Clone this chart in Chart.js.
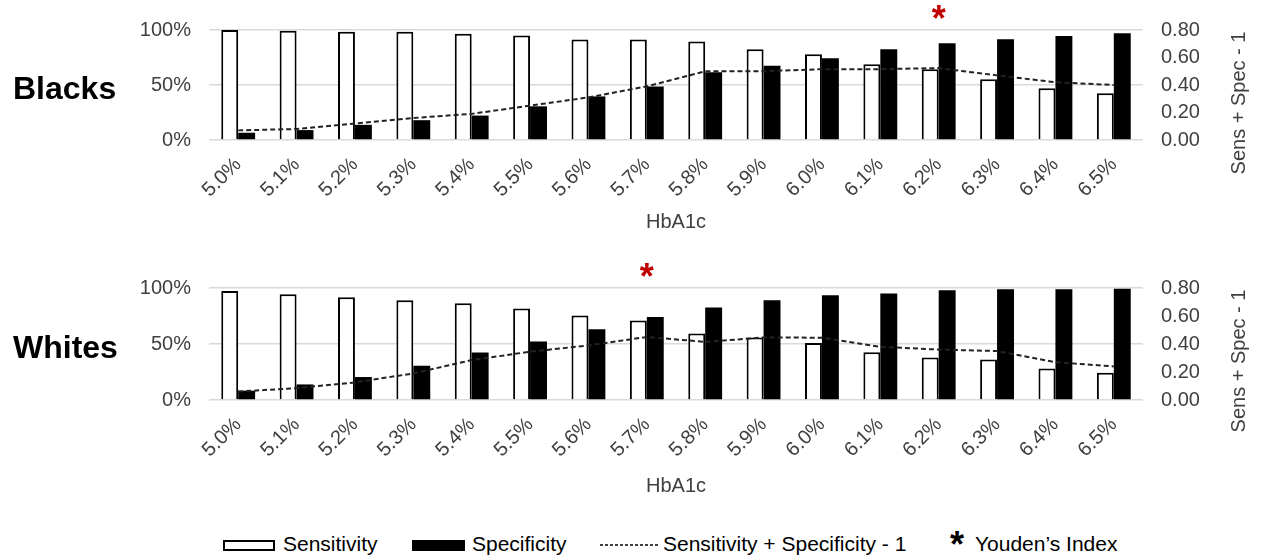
<!DOCTYPE html>
<html lang="en">
<head>
    <meta charset="UTF-8">
    <title>Sensitivity / Specificity by HbA1c cut-off</title>
    <script src="https://cdn.jsdelivr.net/npm/chart.js"></script>
    <style>
        body {
            margin: 0;
            padding: 0;
            background: #fff;
            font-family: "Liberation Sans", Arial, sans-serif;
            color: #000;
        }

        .page {
            position: relative;
            width: 1264px;
            height: 558px;
            overflow: hidden;
        }

        .chart-box {
            position: absolute;
            left: 0;
            width: 1264px;
        }

        .group-label {
            position: absolute;
            left: 13px;
            font-size: 32px;
            line-height: 38px;
            font-weight: bold;
        }

        .legend span {
            position: absolute;
            font-size: 21px;
            line-height: 24px;
            white-space: nowrap;
        }

        .legend .box {
            position: absolute;
            box-sizing: border-box;
            height: 11px;
            border: 2px solid #000;
        }
    </style>
</head>
<body>
    <div class="page">
        <div class="chart-box" style="top: 0; height: 240px;">
            <canvas id="blacksChart" width="1264" height="240"></canvas>
        </div>
        <div class="chart-box" style="top: 248px; height: 262px;">
            <canvas id="whitesChart" width="1264" height="262"></canvas>
        </div>

        <div class="group-label" style="top: 69px;">Blacks</div>
        <div class="group-label" style="top: 328px;">Whites</div>

        <div class="legend">
            <div class="box" style="left: 223px; top: 540px; width: 52px; background: #fff;"></div>
            <span style="left: 283px; top: 532px;">Sensitivity</span>
            <div class="box" style="left: 412px; top: 540px; width: 53px; background: #000;"></div>
            <span style="left: 472px; top: 532px;">Specificity</span>
            <svg style="position: absolute; left: 600px; top: 540px;" width="60" height="10">
                <line x1="0" y1="5" x2="58" y2="5" stroke="#000" stroke-width="1.5" stroke-dasharray="3,2"></line>
            </svg>
            <span style="left: 663px; top: 532px;">Sensitivity + Specificity - 1</span>
            <span style="left: 950px; top: 527px; font-size: 36px; line-height: 36px; font-weight: bold;">*</span>
            <span style="left: 975px; top: 532px;">Youden’s Index</span>
        </div>
    </div>

    <script>
// HbA1c cut-offs
const cutoffs = ["5.0%", "5.1%", "5.2%", "5.3%", "5.4%", "5.5%", "5.6%", "5.7%",
                 "5.8%", "5.9%", "6.0%", "6.1%", "6.2%", "6.3%", "6.4%", "6.5%"];

// Blacks (%)
const blacksSensitivity = [100, 99.4, 98.5, 98.5, 96.7, 94.9, 91.3, 91.3, 89.5, 82.5, 77.9, 68.9, 64.4, 55.3, 47.1, 42.6];
const blacksSpecificity = [6.6, 9, 13.8, 18, 22.2, 30.6, 39.6, 48.6, 61.6, 67.4, 74.3, 82.5, 87.9, 91.5, 94.6, 97];
const blacksYouden = [0.07, 0.08, 0.12, 0.16, 0.19, 0.25, 0.31, 0.39, 0.50, 0.50, 0.515, 0.515, 0.523, 0.47, 0.42, 0.40];
const blacksBest = "6.2%";

// Whites (%)
const whitesSensitivity = [97.3, 94.4, 91.7, 89.0, 86.4, 81.6, 75.4, 70.9, 59.3, 55.8, 51.0, 42.7, 38.0, 36.2, 28.2, 24.3];
const whitesSpecificity = [8.3, 13.9, 20.5, 30.6, 42.4, 52.2, 63.2, 74.2, 82.5, 89.0, 93.5, 95.0, 97.9, 98.8, 98.8, 99.4];
const whitesYouden = [0.06, 0.085, 0.125, 0.19, 0.285, 0.345, 0.39, 0.45, 0.415, 0.447, 0.445, 0.38, 0.36, 0.35, 0.27, 0.24];
const whitesBest = "5.7%";

// axis ticks
const percentTicks = [0, 50, 100];
const indexTicks = [0, 0.2, 0.4, 0.6, 0.8];

const FONT = '"Liberation Sans", Arial, sans-serif';
const TEXT = "#404040";

Chart.defaults.font.family = FONT;
Chart.defaults.font.size = 20;
Chart.defaults.color = TEXT;

// red asterisk over the best cut-off + right axis title (reads bottom to top)
const extrasPlugin = {
    id: "extras",
    afterDraw(chart, args, opts) {
        const ctx = chart.ctx;
        const area = chart.chartArea;
        const x = chart.scales.x.getPixelForValue(chart.data.labels.indexOf(opts.best));

        ctx.save();
        ctx.fillStyle = "#c00000";
        ctx.font = "bold 36px " + FONT;
        ctx.textAlign = "center";
        ctx.textBaseline = "alphabetic";
        ctx.fillText("*", x, area.top + 1);
        ctx.restore();

        ctx.save();
        ctx.translate(chart.scales.y1.right - 25, area.top + 73);
        ctx.rotate(-Math.PI / 2);
        ctx.fillStyle = TEXT;
        ctx.font = "20px " + FONT;
        ctx.textAlign = "center";
        ctx.textBaseline = "middle";
        ctx.fillText("Sens + Spec - 1", 0, 0);
        ctx.restore();
    }
};

function makeChart(canvasId, sens, spec, youden, best, padTop, padBottom, xHeight) {
    const ctx = document.getElementById(canvasId).getContext("2d");
    return new Chart(ctx, {
        type: "bar",
        data: {
            labels: cutoffs,
            datasets: [
                {
                    type: "line",
                    label: "Sensitivity + Specificity - 1",
                    data: youden,
                    yAxisID: "y1",
                    borderColor: "#222",
                    borderWidth: 2,
                    borderDash: [5, 3],
                    pointRadius: 0,
                    tension: 0,
                    order: 0,
                },
                {
                    label: "Sensitivity",
                    data: sens,
                    yAxisID: "y",
                    backgroundColor: "#fff",
                    borderColor: "#000",
                    borderWidth: 2,
                    categoryPercentage: 0.58,
                    barPercentage: 1.0,
                    order: 1,
                },
                {
                    label: "Specificity",
                    data: spec,
                    yAxisID: "y",
                    backgroundColor: "#000",
                    borderWidth: 0,
                    categoryPercentage: 0.58,
                    barPercentage: 1.0,
                    order: 1,
                },
            ],
        },
        options: {
            responsive: false,
            animation: false,
            layout: {
                padding: { top: padTop, bottom: padBottom, left: 0, right: 0 },
            },
            plugins: {
                legend: { display: false },
                tooltip: { enabled: false },
                extras: { best: best },
            },
            scales: {
                x: {
                    grid: { display: false, drawTicks: false },
                    border: { display: false },
                    ticks: { minRotation: 45, maxRotation: 45, padding: 13, color: TEXT },
                    title: { display: true, text: "HbA1c", color: TEXT, font: { size: 20 } },
                    afterFit: (scale) => { scale.height = xHeight; },
                },
                y: {
                    position: "left",
                    min: 0,
                    max: 100,
                    afterBuildTicks: (scale) => { scale.ticks = percentTicks.map(v => ({ value: v })); },
                    ticks: { padding: 18, color: TEXT, callback: (v) => v + "%" },
                    grid: { color: "#d9d9d9", lineWidth: 1.5, drawTicks: false },
                    border: { display: false },
                    afterFit: (scale) => { scale.width = 209; },
                },
                y1: {
                    position: "right",
                    min: 0,
                    max: 0.8,
                    afterBuildTicks: (scale) => { scale.ticks = indexTicks.map(v => ({ value: v })); },
                    ticks: { padding: 18, color: TEXT, callback: (v) => Number(v).toFixed(2) },
                    grid: { display: false, drawTicks: false },
                    border: { display: false },
                    afterFit: (scale) => { scale.width = 121; },
                },
            },
        },
        plugins: [extrasPlugin],
    });
}

makeChart("blacksChart", blacksSensitivity, blacksSpecificity, blacksYouden, blacksBest, 29, 2, 98);
makeChart("whitesChart", whitesSensitivity, whitesSpecificity, whitesYouden, whitesBest, 40, 8, 102);
    </script>
</body>
</html>
